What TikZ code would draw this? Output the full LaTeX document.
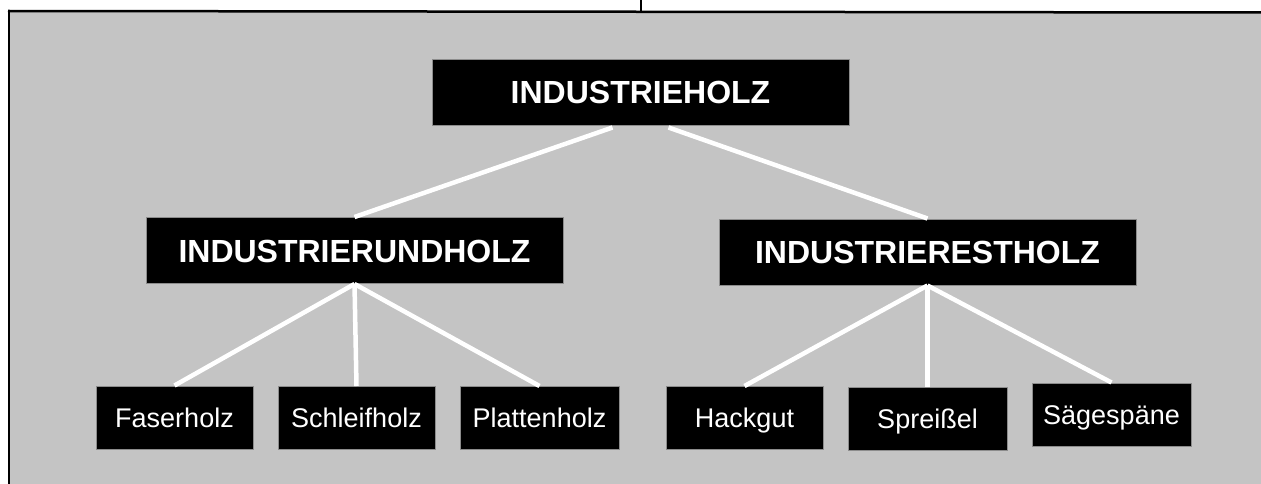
\documentclass[tikz,border=0pt]{standalone}
\usepackage{fontspec}
\setmainfont{Liberation Sans}
\usetikzlibrary{calc}
\definecolor{bggray}{RGB}{196,196,196}
\tikzset{
  every picture/.style={x=1pt,y=-1pt},
  box/.style={fill=black, draw=black!45, line width=1pt, text=white, inner sep=0pt, align=center, text depth=0pt},
  bigbox/.style={box, minimum width=417pt, minimum height=66pt, text height=23pt,
    font=\fontsize{32}{36}\selectfont\bfseries},
  smallbox/.style={box, minimum width=158pt, minimum height=63pt, text height=19.5pt,
    font=\fontsize{27}{31}\selectfont},
  link/.style={white, line width=4.5pt},
  frame/.style={black, line width=2.5pt}
}
\begin{document}
\begin{tikzpicture}
\useasboundingbox (0,0) rectangle (1261,484);
\fill[bggray] (9,11) rectangle (1261,484);
\draw[frame] (8,11) -- (1261,12.5);
\draw[frame] (9,10) -- (9,484);
\draw[black, line width=2pt] (641,0) -- (641,11);

\node[bigbox] (top)  at (640.5,92.5) {INDUSTRIEHOLZ};
\node[bigbox] (rund) at (354.5,250.5) {INDUSTRIERUNDHOLZ};
\node[bigbox] (rest) at (927.5,252) {INDUSTRIERESTHOLZ};

\node[smallbox, minimum width=157pt] (faser)   at (174.5,417.5) {Faserholz};
\node[smallbox, minimum width=157pt] (schleif) at (356.5,418) {Schleifholz};
\node[smallbox, minimum width=159pt] (platten) at (539.5,418) {Plattenholz};
\node[smallbox, minimum width=157pt] (hack)    at (744.5,418) {Hackgut};
\node[smallbox, minimum width=159pt] (spreis)  at (927.5,418.5) {Spreißel};
\node[smallbox, minimum width=159pt] (saege)   at (1111.5,414.5) {Sägespäne};

\draw[link] ($(top.south)+(-28,1.5)$) -- (rund.north);
\draw[link] ($(top.south)+(28,1.5)$) -- (rest.north);

\draw[link] (rund.south) -- (faser.north);
\draw[link] (rund.south) -- (schleif.north);
\draw[link] (rund.south) -- (platten.north);

\draw[link] (rest.south) -- (hack.north);
\draw[link] (rest.south) -- (spreis.north);
\draw[link] (rest.south) -- (saege.north);
\end{tikzpicture}
\end{document}
